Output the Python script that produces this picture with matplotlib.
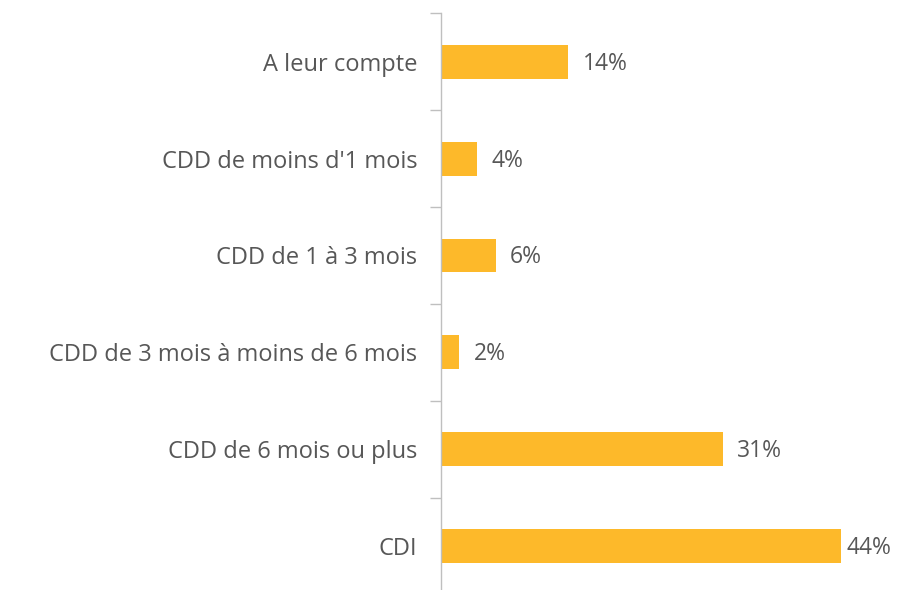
import matplotlib
matplotlib.use("Agg")
from matplotlib import pyplot as plt
import numpy as np

categories = [
    "A leur compte",
    "CDD de moins d'1 mois",
    "CDD de 1 à 3 mois",
    "CDD de 3 mois à moins de 6 mois",
    "CDD de 6 mois ou plus",
    "CDI",
]
shares = [14, 4, 6, 2, 31, 44]
value_labels = ["14%", "4%", "6%", "2%", "31%", "44%"]

BAR_COLOR = "#FDB92A"
TEXT_COLOR = "#575757"
AXIS_COLOR = "#BFBFBF"

plt.rcParams["font.family"] = ["Open Sans", "DejaVu Sans"]

fig = plt.figure(figsize=(8.97, 5.90), dpi=100)
# plot area: vertical axis sits at x=441px, last bar ends around x=841px
ax = fig.add_axes([441 / 897, -4.4 / 590, 456 / 897, 581 / 590])

y = np.arange(len(categories))
ax.barh(y, shares, height=0.35, color=BAR_COLOR, zorder=2)

xmax = 44 * 456 / 400
ax.set_xlim(0, xmax)
ax.set_ylim(len(categories) - 0.5, -0.5)

for yi, v, lab in zip(y, shares, value_labels):
    x = min(v + 1.6, xmax - 5.6)
    ax.text(x, yi + 0.02, lab, va="center", ha="left", fontsize=16.5, color=TEXT_COLOR)

ax.set_yticks(y)
ax.set_yticklabels(categories, fontsize=17, color=TEXT_COLOR)
ax.tick_params(axis="y", which="major", length=0, pad=17)
ax.set_yticks(np.arange(-0.5, len(categories)), minor=True)
ax.tick_params(axis="y", which="minor", length=8, width=1, color=AXIS_COLOR)

ax.set_xticks([])
for side in ["top", "right", "bottom"]:
    ax.spines[side].set_visible(False)
ax.spines["left"].set_color(AXIS_COLOR)
ax.spines["left"].set_linewidth(1)

fig.savefig("out.png", dpi=100)
